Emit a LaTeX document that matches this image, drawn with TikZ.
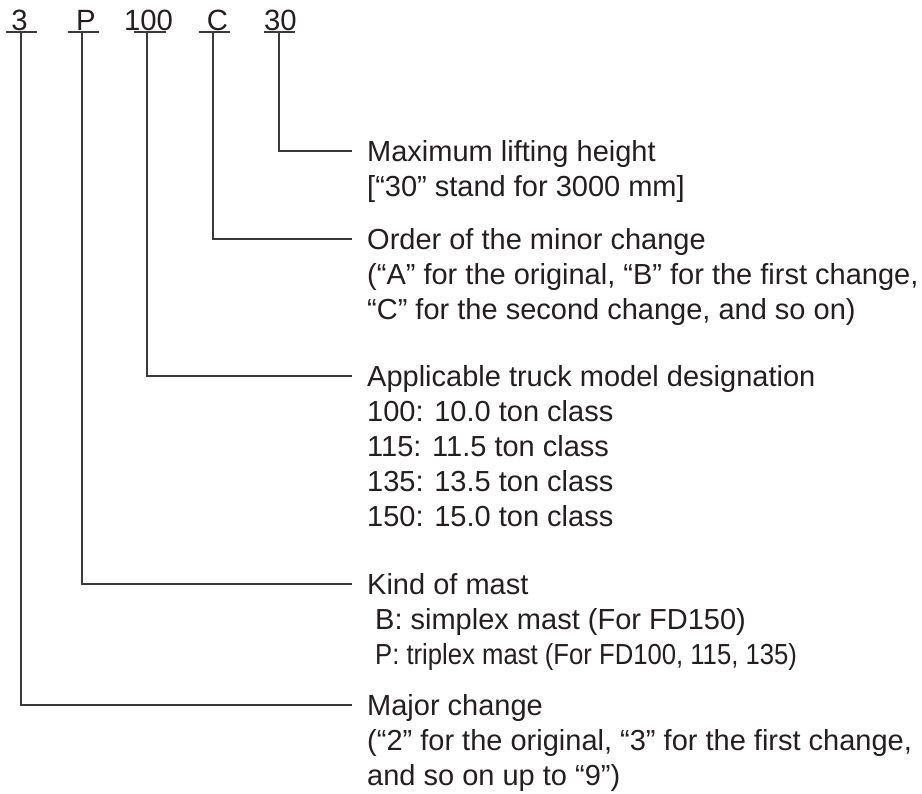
\documentclass[tikz,border=0pt]{standalone}
\usepackage{fontspec}
\usepackage{graphicx}
\setmainfont{Liberation Sans}
\definecolor{ink}{HTML}{231F20}
\definecolor{wire}{HTML}{3A3A3A}
\begin{document}
\begin{tikzpicture}[x=1pt,y=-1pt,
  lab/.style={anchor=base,inner sep=0pt,text=ink,font=\fontsize{29.3}{35}\selectfont},
  desc/.style={anchor=base west,inner sep=0pt,text=ink,font=\fontsize{29}{35}\selectfont},
  uline/.style={draw=wire,line width=1.3pt},
  conn/.style={draw=wire,line width=1.3pt}]
\useasboundingbox (0,0) rectangle (922,794);
% top code letters
\node[lab] (l3)   at (19.5,31) {3};
\node[lab] (lP)   at (86,31) {P};
\node[lab] (l100) at (148.5,31) {100};
\node[lab] (lC)   at (217.5,31) {C};
\node[lab] (l30)  at (280.5,31) {30};
% underlines
\draw[uline] (6,32) -- (37,32);
\draw[uline] (68,32) -- (99,32);
\draw[uline] (134,32) -- (166,32);
\draw[uline] (199,32) -- (230,32);
\draw[uline] (264,32) -- (295,32);
% start points under labels
\coordinate (s3)   at (21,32);
\coordinate (sP)   at (82,32);
\coordinate (s100) at (147,32);
\coordinate (sC)   at (213,32);
\coordinate (s30)  at (279,32);
% end points
\coordinate (e30)  at (352,151);
\coordinate (eC)   at (352,239);
\coordinate (e100) at (352,376);
\coordinate (eP)   at (352,584);
\coordinate (e3)   at (352,705);
% descriptions
\node[desc] (t30) at (367,161.5) {\begin{tabular}[t]{@{}l@{}}Maximum lifting height\\{}[“30” stand for 3000 mm]\end{tabular}};
\node[desc] (tC) at (367,249.5) {\begin{tabular}[t]{@{}l@{}}Order of the minor change\\(“A” for the original, “B” for the first change,\\“C” for the second change, and so on)\end{tabular}};
\node[desc] (t100) at (367,386.5) {\begin{tabular}[t]{@{}l@{}}Applicable truck model designation\\100: 10.0 ton class\\115: 11.5 ton class\\135: 13.5 ton class\\150: 15.0 ton class\end{tabular}};
\node[desc] (tP) at (367,594.5) {\begin{tabular}[t]{@{}l@{}}Kind of mast\\\hspace{8pt}B: simplex mast (For FD150)\\\hspace{8pt}\scalebox{0.885}[1]{P: triplex mast (For FD100, 115, 135)}\end{tabular}};
\node[desc] (t3) at (367,715.5) {\begin{tabular}[t]{@{}l@{}}Major change\\(“2” for the original, “3” for the first change,\\and so on up to “9”)\end{tabular}};
% connectors
\draw[conn] (s30) |- (e30);
\draw[conn] (sC) |- (eC);
\draw[conn] (s100) |- (e100);
\draw[conn] (sP) |- (eP);
\draw[conn] (s3) |- (e3);
\end{tikzpicture}
\end{document}
